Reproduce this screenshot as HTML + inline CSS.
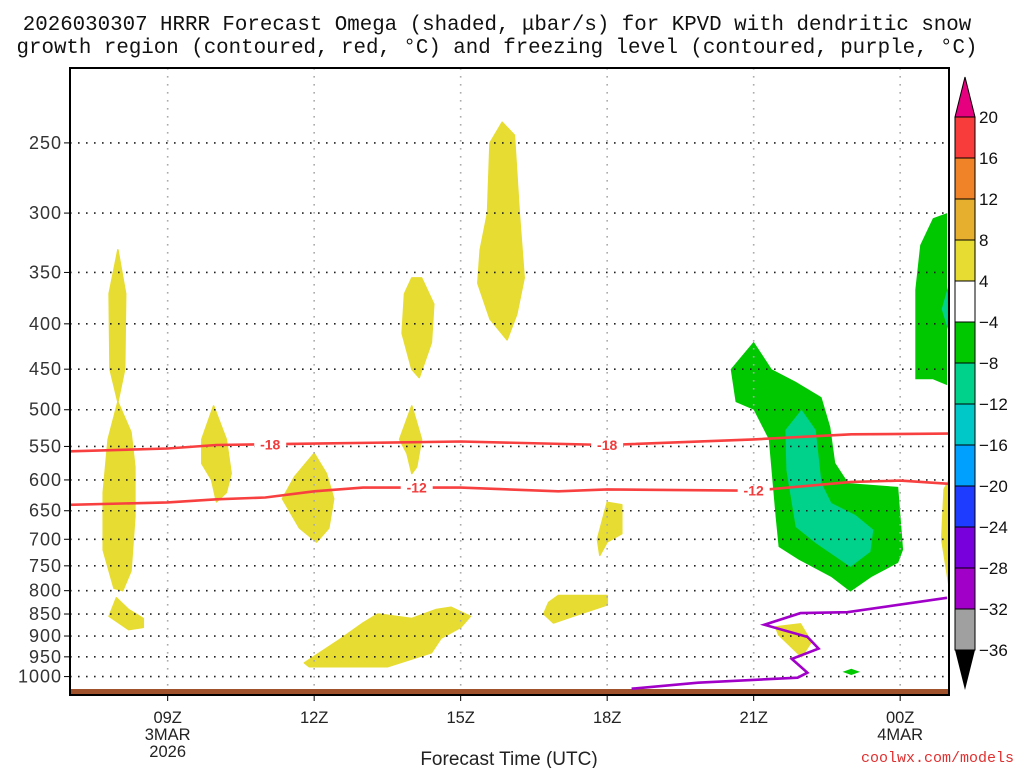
<!DOCTYPE html>
<html><head><meta charset="utf-8"><style>
body{margin:0;background:#fff;}
svg{display:block;}
text{font-family:"Liberation Sans",sans-serif;}
</style></head><body>
<svg id="c" width="1024" height="768" xmlns="http://www.w3.org/2000/svg">
<text x="497" y="30" text-anchor="middle" font-size="20.8" fill="#111" style="font-family:'Liberation Mono',monospace">2026030307 HRRR Forecast Omega (shaded, μbar/s) for KPVD with dendritic snow</text>
<text x="497" y="53" text-anchor="middle" font-size="20.8" fill="#111" style="font-family:'Liberation Mono',monospace">growth region (contoured, red, °C) and freezing level (contoured, purple, °C)</text>
<g id="plot"></g>
<g id="cbar"></g>
<text x="509" y="765" text-anchor="middle" font-size="19" fill="#222">Forecast Time (UTC)</text>
<text x="1014" y="762" text-anchor="end" font-size="15" fill="#e03030" style="font-family:'Liberation Mono',monospace">coolwx.com/models</text>
</svg>
<script>
const pressureTicks=[250,300,350,400,450,500,550,600,650,700,750,800,850,900,950,1000];
const timeTicks=[9,12,15,18,21,24];
const timeLabels=["09Z","12Z","15Z","18Z","21Z","00Z"];
const timeSub=[["3MAR","2026"],[],[],[],[],["4MAR"]];
const yellowAreas=[
 [[7.98,330],[8.14,370],[8.12,450],[7.98,490],[8.25,530],[8.33,580],[8.33,660],[8.25,760],[8.08,800],[7.9,795],[7.68,720],[7.68,620],[7.78,540],[7.98,490],[7.82,450],[7.8,370]],
 [[7.95,815],[8.2,840],[8.5,860],[8.5,880],[8.2,885],[7.8,855]],
 [[9.94,495],[10.2,540],[10.3,590],[10.2,620],[10.0,635],[9.9,600],[9.7,575],[9.7,540]],
 [[12.0,560],[12.25,590],[12.4,630],[12.3,680],[12.05,705],[11.7,680],[11.35,630],[11.6,595]],
 [[14.2,355],[14.45,380],[14.4,420],[14.15,460],[14.0,450],[13.8,410],[13.85,370],[14.0,355]],
 [[14.0,495],[14.2,540],[14.1,580],[14.0,590],[13.9,560],[13.75,540]],
 [[15.85,237],[16.1,245],[16.2,300],[16.3,355],[16.15,390],[15.95,417],[15.6,395],[15.35,360],[15.4,330],[15.55,300],[15.6,250]],
 [[18.0,636],[18.3,640],[18.3,690],[18.0,705],[17.85,730],[17.8,700]],
 [[16.8,825],[17.0,810],[18.0,810],[18.0,830],[17.3,855],[16.9,870],[16.7,850]],
 [[11.8,965],[12.5,910],[13.0,870],[13.3,850],[14.0,860],[14.5,840],[14.8,835],[15.2,855],[15.0,880],[14.6,905],[14.4,940],[13.5,975],[12.5,975],[11.9,975]],
 [[21.45,879],[21.96,872],[22.18,914],[21.98,950],[21.51,897]],
 [[24.9,615],[25,600],[25,790],[24.85,700]]
];
const greenAreas=[
 [[21.0,419],[20.53,450],[20.63,490],[21.0,500],[21.31,540],[21.45,660],[21.51,714],[21.92,738],[22.59,772],[22.98,802],[23.41,772],[23.96,744],[24.06,719],[23.96,611],[22.94,605],[22.67,574],[22.57,523],[22.39,484],[21.86,465],[21.37,450]],
 [[24.96,300],[24.67,304],[24.41,326],[24.31,366],[24.31,462],[24.67,462],[24.96,469]],
 [[22.82,988],[23.0,980],[23.18,988],[23.0,996]]
];
const tealAreas=[
 [[21.98,500],[21.65,527],[21.67,585],[21.86,678],[22.27,707],[22.98,752],[23.39,723],[23.45,683],[23.08,657],[22.59,637],[22.39,605],[22.27,527]],
 [[25,360],[24.85,385],[25,410]]
];
const dgzMinus18=[[7,557],[9,553],[10,548],[12,546],[15,543],[18,548],[21,540],[23,533],[25,532]];
const dgzMinus12=[[7,640],[9,636],[10,631],[11,628],[12,618],[13,612],[15,612],[17,618],[18,615],[21,617],[23,603],[24,601],[25,606]];
const freezing=[[18.5,1032],[19.86,1016],[21.9,1003],[22.1,990],[21.78,955],[22.33,930],[22.1,902],[21.22,874],[21.96,848],[22.92,846],[24.96,815]];
const labels18=[11.1,18.0];
const labels12=[14.1,21.0];
const cbarLevels=["20","16","12","8","4","−4","−8","−12","−16","−20","−24","−28","−32","−36"];
const cbarColors=["#f83c3c","#f08228","#e6af2d","#e6dc32","#ffffff","#00c800","#00d28c","#00c8c8","#00a0ff","#1e3cff","#7800dc","#a000c8","#a0a0a0"];

const NS="http://www.w3.org/2000/svg";
const L=70,R=949,T=68,B=695,H0=7,H1=25,P0=205.8,P1=1049;
function xs(h){return L+(h-H0)/(H1-H0)*(R-L);}
function ys(p){return T+Math.log(p/P0)/Math.log(P1/P0)*(B-T);}
function mk(tag,at,parent){const e=document.createElementNS(NS,tag);for(const k in at)e.setAttribute(k,at[k]);parent.appendChild(e);return e;}
const plot=document.getElementById('plot');
const clip=mk('clipPath',{id:'pc'},plot);mk('rect',{x:L,y:T,width:R-L,height:B-T},clip);
const g=mk('g',{'clip-path':'url(#pc)'},plot);
function pts(a){return a.map(d=>xs(d[0]).toFixed(1)+','+ys(d[1]).toFixed(1)).join(' ');}
yellowAreas.forEach(a=>{const e=mk('polygon',{points:pts(a),fill:'#e6dc32','stroke':'#e6dc32','stroke-width':1.5,'stroke-linejoin':'round'},g);

});
greenAreas.forEach(a=>{const e=mk('polygon',{points:pts(a),fill:'#00c800'},g);

});
tealAreas.forEach(a=>{const e=mk('polygon',{points:pts(a),fill:'#00d28c'},g);

});
pressureTicks.forEach(p=>{const e=mk('line',{x1:L,x2:R,y1:ys(p),y2:ys(p),stroke:'#222','stroke-width':1.6,'stroke-dasharray':'1.6 6.4'},g);

});
timeTicks.forEach(h=>{const e=mk('line',{x1:xs(h),x2:xs(h),y1:T,y2:B,stroke:'#aaa','stroke-width':1.6,'stroke-dasharray':'1.6 6.4'},g);

});
const gr=mk('rect',{x:L,y:689,width:R-L,height:6,fill:'#a0522d'},g);


function line(a,c,name){const e=mk('polyline',{points:pts(a),fill:'none',stroke:c,'stroke-width':2.6},g);

return e;}
line(dgzMinus18,'#f84040','isotherm-minus18');
line(dgzMinus12,'#f84040','isotherm-minus12');
line(freezing,'#a000c8','freezing-level');
function interp(a,h){for(let i=0;i<a.length-1;i++){if(h>=a[i][0]&&h<=a[i+1][0]){const t=(h-a[i][0])/(a[i+1][0]-a[i][0]);return a[i][1]+t*(a[i+1][1]-a[i][1]);}}return a[a.length-1][1];}
function lab(a,hs,txt){hs.forEach(h=>{const x=xs(h),y=ys(interp(a,h));
mk('rect',{x:x-16,y:y-5,width:32,height:10,fill:'#fff'},g);
const t=mk('text',{x:x,y:y+5,'text-anchor':'middle','font-size':14,'font-weight':'bold',fill:'#f03c3c'},g);t.textContent=txt;

});}
lab(dgzMinus18,labels18,'-18');lab(dgzMinus12,labels12,'-12');
const fr=mk('rect',{x:L,y:T,width:R-L,height:B-T,fill:'none',stroke:'#000','stroke-width':2},plot);


pressureTicks.forEach(p=>{const y=ys(p);mk('line',{x1:L-6,x2:L,y1:y,y2:y,stroke:'#000','stroke-width':1},plot);
const t=mk('text',{x:62,y:y+6,'text-anchor':'end','font-size':18,fill:'#333','letter-spacing':'1'},plot);t.textContent=p;

});
timeTicks.forEach((h,i)=>{const x=xs(h);mk('line',{x1:x,x2:x,y1:B,y2:B+6,stroke:'#000','stroke-width':1},plot);
[timeLabels[i]].concat(timeSub[i]).forEach((s,j)=>{const t=mk('text',{x:x,y:723+j*17,'text-anchor':'middle','font-size':16.5,fill:'#222'},plot);t.textContent=s;

});});
const cb=document.getElementById('cbar');const cx=955,cw=20,cTop=117,bh=41;
mk('polygon',{points:`${cx},${cTop} ${cx+cw},${cTop} ${cx+cw/2},${cTop-40}`,fill:'#e6007f',stroke:'#000','stroke-width':1},cb);
cbarColors.forEach((c,i)=>{const r=mk('rect',{x:cx,y:cTop+i*bh,width:cw,height:bh,fill:c,stroke:'#000','stroke-width':1},cb);

});
const by=cTop+cbarColors.length*bh;
mk('polygon',{points:`${cx},${by} ${cx+cw},${by} ${cx+cw/2},${by+40}`,fill:'#000'},cb);
cbarLevels.forEach((s,i)=>{const t=mk('text',{x:979,y:cTop+i*bh+6,'font-size':17,fill:'#111'},cb);t.textContent=s;

});
</script>
</body></html>
